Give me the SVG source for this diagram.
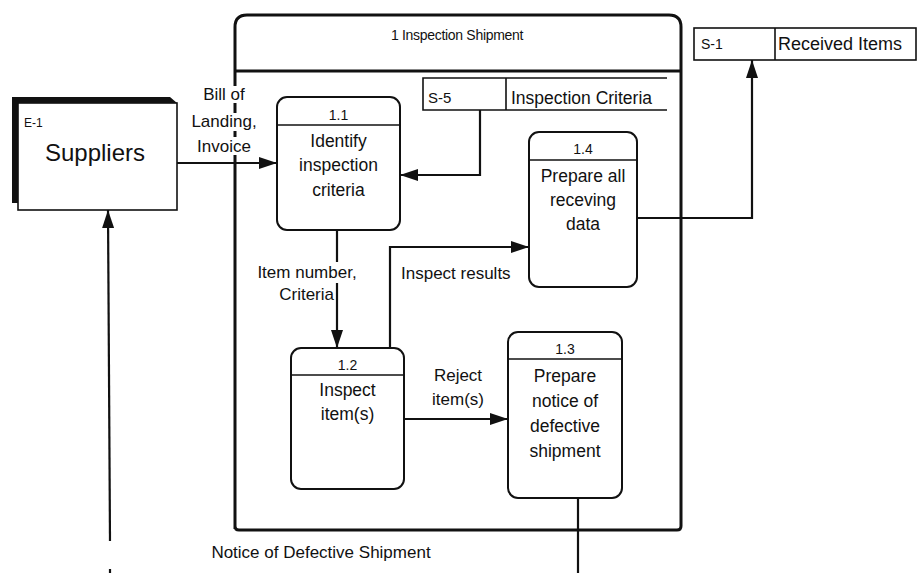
<svg xmlns="http://www.w3.org/2000/svg" width="919" height="573" viewBox="0 0 919 573">
  <defs>
    <marker id="arrow" markerUnits="userSpaceOnUse" markerWidth="19" markerHeight="12" refX="18" refY="6" orient="auto">
      <path d="M0,0 L18,6 L0,12 z" fill="#111"/>
    </marker>
    <style>
      text { font-family: "Liberation Sans", Arial, sans-serif; fill: #111; }
      .proc { fill: #fff; stroke: #111; stroke-width: 2; }
      .sep { stroke: #111; stroke-width: 1.6; fill: none; }
      .num { font-size: 14px; text-anchor: middle; }
      .body { font-size: 17.5px; text-anchor: middle; }
      .lbl { font-size: 17px; text-anchor: middle; }
      .flow { fill: none; stroke: #111; stroke-width: 2.2; }
      .store { fill: none; stroke: #111; stroke-width: 1.6; }
      .mask { fill: #fff; }
    </style>
  </defs>

  <rect width="919" height="573" fill="#fff"/>

  <!-- Process 1 frame -->
  <g id="process-1">
    <path d="M235,529 L235,27 Q235,15 247,15 L669,15 Q681,15 681,27 L681,526 Q681,530 677,530 L239,530 Q235,530 235,526 Z" fill="none" stroke="#111" stroke-width="3"/>
    <line x1="235" y1="71" x2="681" y2="71" stroke="#111" stroke-width="3"/>
    <text x="457" y="40" font-size="14" text-anchor="middle" letter-spacing="-0.3">1 Inspection Shipment</text>
  </g>

  <!-- Data store S-5 -->
  <g id="store-s5">
    <path class="store" d="M667,78 H423 V110 H667 M506,78 V110"/>
    <text x="428" y="103" font-size="15">S-5</text>
    <text x="511" y="104" font-size="17.5">Inspection Criteria</text>
  </g>

  <!-- Data store S-1 -->
  <g id="store-s1">
    <rect x="694" y="28" width="222" height="32" fill="#fff" stroke="#111" stroke-width="1.6"/>
    <line x1="775" y1="28" x2="775" y2="60" stroke="#111" stroke-width="1.6"/>
    <text x="701" y="49" font-size="14">S-1</text>
    <text x="778" y="50" font-size="18">Received Items</text>
  </g>

  <!-- External entity E-1 -->
  <g id="entity-e1">
    <rect x="18" y="103" width="159" height="107" fill="#fff" stroke="#111" stroke-width="1.6"/>
    <path d="M12,97 H170 L177,103 H18 V203 H12 Z" fill="#111"/>
    <text x="24" y="127" font-size="12">E-1</text>
    <text x="95" y="161" font-size="24" text-anchor="middle">Suppliers</text>
  </g>

  <!-- Process 1.1 -->
  <g id="process-1-1">
    <rect class="proc" x="277" y="97" width="123" height="133" rx="10"/>
    <line class="sep" x1="277" y1="125" x2="400" y2="125"/>
    <text class="num" x="338.5" y="120">1.1</text>
    <text class="body" x="338.5" y="147">Identify</text>
    <text class="body" x="338.5" y="171">inspection</text>
    <text class="body" x="338.5" y="196">criteria</text>
  </g>

  <!-- Process 1.4 -->
  <g id="process-1-4">
    <rect class="proc" x="529" y="132" width="108" height="155" rx="10"/>
    <line class="sep" x1="529" y1="160" x2="637" y2="160"/>
    <text class="num" x="583" y="154">1.4</text>
    <text class="body" x="583" y="182">Prepare all</text>
    <text class="body" x="583" y="206">receving</text>
    <text class="body" x="583" y="230">data</text>
  </g>

  <!-- Process 1.2 -->
  <g id="process-1-2">
    <rect class="proc" x="291" y="348" width="113" height="141" rx="10"/>
    <line class="sep" x1="291" y1="375" x2="404" y2="375"/>
    <text class="num" x="347.5" y="370">1.2</text>
    <text class="body" x="347.5" y="396">Inspect</text>
    <text class="body" x="347.5" y="420">item(s)</text>
  </g>

  <!-- Process 1.3 -->
  <g id="process-1-3">
    <rect class="proc" x="508" y="332" width="114" height="166" rx="10"/>
    <line class="sep" x1="508" y1="359" x2="622" y2="359"/>
    <text class="num" x="565" y="354">1.3</text>
    <text class="body" x="565" y="382">Prepare</text>
    <text class="body" x="565" y="407">notice of</text>
    <text class="body" x="565" y="432">defective</text>
    <text class="body" x="565" y="457">shipment</text>
  </g>

  <!-- Data flows -->
  <g id="flows">
    <path class="flow" d="M177,163 H277" marker-end="url(#arrow)"/>
    <path class="flow" d="M480,110 V175 H400" marker-end="url(#arrow)"/>
    <path class="flow" d="M337,230 V348" marker-end="url(#arrow)"/>
    <path class="flow" d="M390,348 V247 H529" marker-end="url(#arrow)"/>
    <path class="flow" d="M404,419 H508" marker-end="url(#arrow)"/>
    <path class="flow" d="M637,218 H752 V60" marker-end="url(#arrow)"/>
    <path class="flow" d="M578,498 V573"/>
    <path class="flow" d="M110,541 L108,210" marker-end="url(#arrow)" stroke-width="1.8"/>
    <path class="flow" d="M110,569 V573" stroke-width="1.8"/>

    <!-- flow labels -->
    <rect class="mask" x="200" y="86" width="48" height="17"/>
    <rect class="mask" x="190" y="113" width="70" height="18"/>
    <rect class="mask" x="193" y="137" width="62" height="18"/>
    <text class="lbl" x="224" y="100">Bill of</text>
    <text class="lbl" x="224" y="127">Landing,</text>
    <text class="lbl" x="224" y="152">Invoice</text>

    <rect class="mask" x="258" y="262" width="98" height="21"/>
    <text class="lbl" x="307" y="278">Item number,</text>
    <text x="334" y="300" font-size="17" text-anchor="end">Criteria</text>

    <text x="401" y="279" font-size="17">Inspect results</text>

    <text class="lbl" x="458" y="381">Reject</text>
    <text class="lbl" x="458" y="405">item(s)</text>

    <text class="lbl" x="321" y="558">Notice of Defective Shipment</text>
  </g>
</svg>
